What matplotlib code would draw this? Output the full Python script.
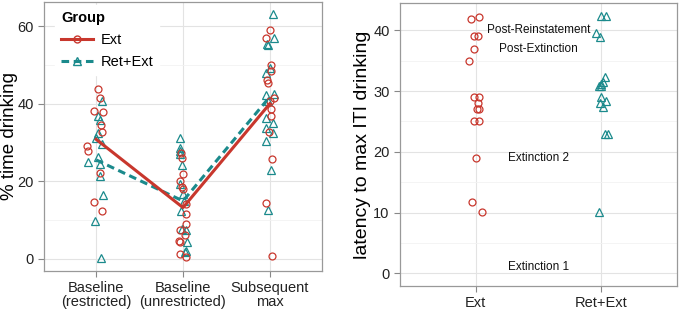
import numpy as np
import matplotlib.pyplot as plt
from matplotlib.lines import Line2D

plt.rcParams["font.family"] = ["Liberation Sans", "DejaVu Sans"]

RED = "#C8372D"
TEAL = "#1B8A8C"

# ---- left panel: % time drinking ----
phases = ["Baseline\n(restricted)", "Baseline\n(unrestricted)", "Subsequent\nmax"]

ext_restricted = [43.8, 41.4, 38.0, 37.9, 34.6, 32.7, 29.1, 27.8, 22.2, 14.7, 12.4]
ext_restricted_dx = [0.02, 0.05, -0.03, 0.08, 0.06, 0.07, -0.10, -0.09, 0.05, -0.03, 0.07]
ret_restricted = [40.6, 36.8, 35.9, 32.3, 31.2, 29.5, 26.3, 25.0, 24.4, 21.4, 16.4, 9.8, 0.2]
ret_restricted_dx = [0.07, 0.02, 0.05, 0.02, 0.0, 0.07, 0.02, -0.09, 0.05, 0.05, 0.08, -0.01, 0.06]

ext_unrestricted = [27.4, 26.1, 21.8, 20.1, 18.6, 18.1, 14.1, 11.5, 9.0, 7.3, 6.2, 4.5, 4.4, 1.3, 0.4]
ext_unrestricted_dx = [-0.02, -0.01, 0.0, -0.03, -0.01, 0.0, 0.03, 0.04, 0.04, -0.04, 0.02, -0.05, -0.04, -0.03, 0.04]
ret_unrestricted = [31.2, 28.6, 27.8, 26.9, 24.1, 19.2, 16.7, 14.9, 12.4, 7.7, 7.5, 4.3, 2.1, 1.7]
ret_unrestricted_dx = [-0.04, -0.04, -0.04, -0.03, -0.01, -0.03, 0.0, 0.01, -0.02, -0.01, 0.04, 0.05, 0.03, 0.02]

ext_max = [59.0, 56.8, 50.0, 48.3, 46.2, 45.3, 41.5, 40.6, 38.5, 36.7, 32.7, 25.8, 14.5, 0.7]
ext_max_dx = [0.0, -0.04, 0.01, 0.01, -0.03, -0.02, 0.05, 0.0, 0.01, 0.01, -0.01, 0.02, -0.04, 0.03]
ret_max = [63.2, 56.8, 55.3, 55.0, 49.1, 47.9, 42.3, 42.6, 40.6, 36.3, 35.0, 33.8, 32.5, 30.3, 22.8, 12.6]
ret_max_dx = [0.04, 0.05, -0.03, -0.02, 0.0, -0.04, -0.05, 0.05, -0.02, -0.04, 0.04, -0.04, 0.04, -0.04, 0.01, -0.02]

ext_means = [30.8, 13.2, 40.0]
ret_means = [25.5, 14.9, 41.8]

# ---- right panel: latency to max ITI drinking ----
groups = ["Ext", "Ret+Ext"]
ext_latency = [41.8, 42.2, 39.0, 39.0, 37.0, 35.0, 29.0, 29.0, 28.0, 27.1, 27.0, 25.0, 25.1, 19.0, 11.8, 10.1]
ext_latency_dx = [-0.04, 0.03, -0.01, 0.02, -0.01, -0.05, -0.01, 0.03, 0.02, 0.01, 0.03, -0.01, 0.03, 0.0, -0.03, 0.05]
ret_latency = [42.3, 42.4, 39.5, 38.9, 32.3, 31.2, 30.9, 30.9, 31.5, 29.0, 28.1, 28.3, 27.3, 23.0, 23.0, 10.1]
ret_latency_dx = [0.0, 0.04, -0.04, -0.01, 0.03, 0.0, 0.0, -0.02, 0.01, 0.0, -0.01, 0.04, 0.01, 0.03, 0.05, -0.02]

phase_labels = ["Post-Reinstatement", "Post-Extinction", "Extinction 2", "Extinction 1"]
phase_label_y = [40.0, 37.0, 19.0, 1.0]


def style_axes(ax):
    ax.set_facecolor("white")
    for s in ax.spines.values():
        s.set_color("#999999")
        s.set_linewidth(0.9)
    ax.grid(True, which="major", color="#E3E3E3", linewidth=0.8)
    ax.grid(True, which="minor", axis="y", color="#F2F2F2", linewidth=0.6)
    ax.set_axisbelow(True)
    ax.tick_params(axis="both", which="major", length=4, color="#888888",
                   labelsize=10.5, labelcolor="#222222")
    ax.tick_params(axis="both", which="minor", length=0)


fig = plt.figure(figsize=(6.8, 3.11), dpi=100)

# left panel
ax1 = fig.add_axes([44 / 680, 40 / 311, 278 / 680, 269 / 311])
style_axes(ax1)
mk = dict(linestyle="none", markerfacecolor="none", markeredgewidth=0.9)
for i, (ev, ed, rv, rd) in enumerate([
        (ext_restricted, ext_restricted_dx, ret_restricted, ret_restricted_dx),
        (ext_unrestricted, ext_unrestricted_dx, ret_unrestricted, ret_unrestricted_dx),
        (ext_max, ext_max_dx, ret_max, ret_max_dx)]):
    ax1.plot(i + 1 + np.array(rd), rv, marker="^", markersize=6,
             markeredgecolor=TEAL, **mk)
    ax1.plot(i + 1 + np.array(ed), ev, marker="o", markersize=5,
             markeredgecolor=RED, **mk)
xs = np.arange(1, 4)
ax1.plot(xs, ret_means, color=TEAL, linewidth=2.2, linestyle=(0, (2.5, 1.5)))
ax1.plot(xs, ext_means, color=RED, linewidth=2.2)
ax1.set_xlim(0.4, 3.6)
ax1.set_ylim(-3.15, 66.2)
ax1.set_xticks(xs)
ax1.set_xticklabels(phases, linespacing=1.0)
ax1.set_yticks([0, 20, 40, 60])
ax1.set_yticks([10, 30, 50], minor=True)
ax1.set_ylabel("% time drinking", fontsize=13.5)
ax1.yaxis.set_label_coords(-0.095, 0.5)

handles = [
    Line2D([], [], color=RED, linewidth=2.2, marker="o", markersize=5,
           markerfacecolor="none", markeredgecolor=RED),
    Line2D([], [], color=TEAL, linewidth=2.2, linestyle=(0, (2.5, 1.5)),
           marker="^", markersize=6, markerfacecolor="none", markeredgecolor=TEAL),
]
leg = ax1.legend(handles, ["Ext", "Ret+Ext"], title="Group", loc="upper left",
                 bbox_to_anchor=(0.03, 1.0), fontsize=10.5, title_fontsize=10.5,
                 frameon=True, fancybox=False, handlelength=2.2,
                 borderaxespad=0.2, labelspacing=0.55, handletextpad=0.5)
leg.get_frame().set_edgecolor("white")
leg.get_frame().set_facecolor("white")
leg.get_frame().set_alpha(1.0)
leg.get_title().set_fontweight("bold")
leg._legend_box.align = "left"

# right panel
ax2 = fig.add_axes([400 / 680, 25 / 311, 277 / 680, 283 / 311])
style_axes(ax2)
ax2.plot(1 + np.array(ext_latency_dx), ext_latency, marker="o", markersize=5,
         markeredgecolor=RED, **mk)
ax2.plot(2 + np.array(ret_latency_dx), ret_latency, marker="^", markersize=6,
         markeredgecolor=TEAL, **mk)
for lab, y in zip(phase_labels, phase_label_y):
    ax2.text(1.5, y, lab, ha="center", va="center", fontsize=8.5, color="#111111")
ax2.set_xlim(0.4, 2.6)
ax2.set_ylim(-2.1, 44.5)
ax2.set_xticks([1, 2])
ax2.set_xticklabels(groups)
ax2.set_yticks([0, 10, 20, 30, 40])
ax2.set_yticks([5, 15, 25, 35], minor=True)
ax2.set_ylabel("latency to max ITI drinking", fontsize=14)
ax2.yaxis.set_label_coords(-0.105, 0.5)

fig.savefig("out.png", dpi=100)
